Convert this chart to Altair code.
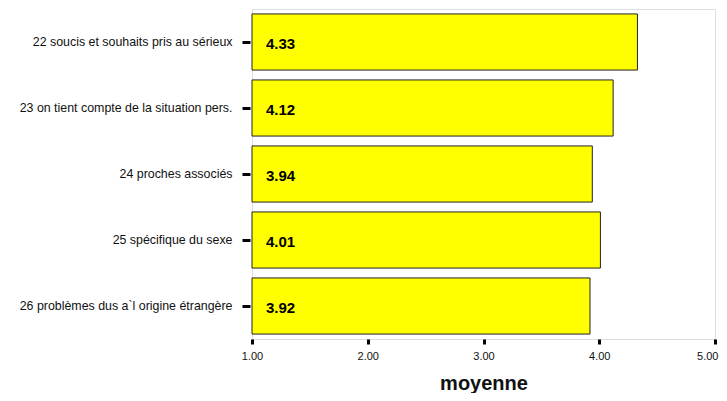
import altair as alt
import pandas as pd

categories = [
    "22 soucis et souhaits pris au sérieux",
    "23 on tient compte de la situation pers.",
    "24 proches associés",
    "25 spécifique du sexe",
    "26 problèmes dus a`l origine étrangère",
]
values = [4.33, 4.12, 3.94, 4.01, 3.92]
labels = ["4.33", "4.12", "3.94", "4.01", "3.92"]
x_ticks = [1, 2, 3, 4, 5]

df = pd.DataFrame({"item": categories, "moyenne": values, "label": labels, "base": [1] * len(values)})

FONT = "Liberation Sans"

y_enc = alt.Y(
    "item:N",
    sort=categories,
    scale=alt.Scale(paddingInner=0.15, paddingOuter=0.075),
    axis=alt.Axis(
        title=None, domain=False, offset=2, tickColor="black", tickWidth=3, tickSize=8,
        labelFont=FONT, labelFontSize=12.4, labelColor="#111", labelPadding=10, labelLimit=400,
    ),
)

x_scale = alt.Scale(domain=[1, 5], nice=False, zero=False)

bars = alt.Chart(df).mark_bar(color="#FFFF00", stroke="#222", strokeWidth=1).encode(
    x=alt.X(
        "moyenne:Q", scale=x_scale,
        axis=alt.Axis(
            title="moyenne", values=x_ticks, format=".2f", domain=False, grid=False,
            tickColor="black", tickWidth=3, tickSize=5, labelPadding=6, labelFlush=False,
            labelAlign={"condition": {"test": "datum.value == 5", "value": "right"}, "value": "center"},
            labelOffset={"condition": {"test": "datum.value == 5", "value": 3}, "value": 0},
            labelFont=FONT, labelFontSize=11, labelColor="#111",
            titleFont=FONT, titleFontSize=20, titleFontWeight="bold", titleColor="#111",
            titlePadding=12,
        ),
    ),
    x2="base:Q",
    y=y_enc,
)

text = alt.Chart(df).mark_text(
    align="left", baseline="middle", dx=14, dy=2, font=FONT, fontSize=15, fontWeight="bold", color="black"
).encode(
    x=alt.X("base:Q", scale=x_scale),
    y=alt.Y("item:N", sort=categories),
    text="label:N",
)

chart = (
    alt.layer(bars, text)
    .properties(
        width=463, height=330,
        autosize=alt.AutoSizeParams(type="none"),
        padding={"left": 244, "top": 1, "right": 4, "bottom": 54},
    )
    .configure_view(stroke="#888", strokeWidth=2)
    .configure(background="white")
)

chart.save("out.html", embed_options={"renderer": "svg", "actions": False})
